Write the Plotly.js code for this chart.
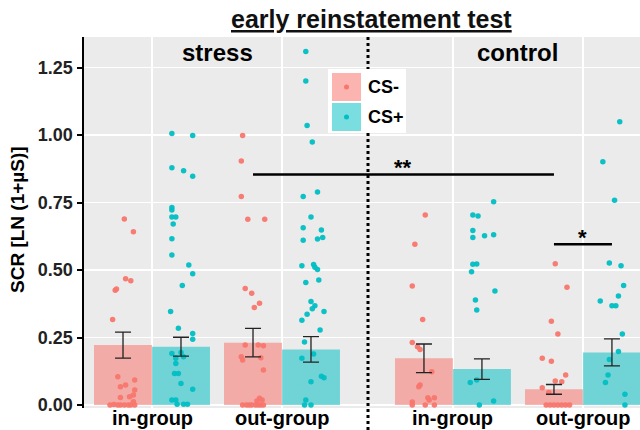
<!DOCTYPE html>
<html>
<head>
<meta charset="utf-8">
<script src="https://cdn.plot.ly/plotly-3.0.1.min.js"></script>
<style>html,body{margin:0;padding:0;background:#fff;}#chart{width:640px;height:430px;}</style>
</head>
<body>
<div id="chart"></div>
<script>
// ---------------- DATA ----------------
const chartTitle = 'early reinstatement test';
const groupLabels = ['stress', 'control'];
const tickLabels = ['in-group', 'out-group'];
const conditions = ['CS-', 'CS+'];
const yTitle = 'SCR [LN (1+µS)]';
const yTicks = [0, 0.25, 0.5, 0.75, 1.0, 1.25];
const yTickLabels = ['0.00', '0.25', '0.50', '0.75', '1.00', '1.25'];

// cell order: stress in-group, stress out-group, control in-group, control out-group
const meanCSminus = [0.222, 0.231, 0.173, 0.058];
const seCSminus   = [0.048, 0.053, 0.053, 0.018];
const meanCSplus  = [0.216, 0.206, 0.133, 0.195];
const seCSplus    = [0.035, 0.047, 0.038, 0.050];

// individual subjects (SCR) and their horizontal jitter
const scrStressInMinus = [0.689,0.642,0.468,0.460,0.425,0.430,0.317,0.105,0.074,0.068,0.093,0.056,0.037,0.031,0.028,0,0.002,0,0,0,0,0,0,0.012];
const jitStressInMinus = [0.01,0.08,0.02,0.06,-0.06,-0.05,-0.08,-0.04,0.02,-0.02,0.09,0.09,0.08,0.05,-0.02,-0.10,-0.07,-0.04,-0.02,0.01,0.04,0.06,0.09,0.08];
const scrStressInPlus = [1.006,0.998,0.879,0.868,0.847,0.732,0.722,0.696,0.696,0.670,0.616,0.556,0.519,0.486,0.443,0.346,0.284,0.265,0.244,0.191,0.173,0.195,0.179,0.154,0.117,0.117,0.080,0.058,0.019,0.019,0.003,0.003,0.003];
const jitStressInPlus = [-0.07,0.09,-0.07,0.02,0.09,-0.07,-0.07,-0.07,-0.04,-0.06,-0.07,-0.07,0.06,0.09,0.01,-0.08,-0.02,0.09,0.09,-0.07,-0.04,0,0.02,-0.04,-0.05,-0.02,0,0.09,-0.07,-0.04,-0.03,0.02,0.05];
const scrStressOutMinus = [0.998,0.904,0.772,0.688,0.688,0.432,0.414,0.377,0.361,0.222,0.222,0.220,0.179,0.167,0.175,0.130,0.025,0.019,0.015,0,0,0,0,0,0,0,0];
const jitStressOutMinus = [-0.08,-0.09,-0.09,-0.04,0.09,-0.06,-0.01,0.05,0.01,-0.06,0.04,0.08,-0.09,-0.08,0.06,0.08,0.05,0.07,0.03,-0.08,-0.05,-0.03,-0.01,0.02,0.04,0.06,0.08];
const scrStressOutPlus = [1.309,1.200,1.035,0.974,0.772,0.789,0.696,0.657,0.648,0.610,0.615,0.620,0.516,0.520,0.510,0.502,0.454,0.463,0.383,0.368,0.357,0.346,0.336,0.314,0.278,0.233,0.173,0.189,0.086,0.107,0.101,0.019,0,0];
const jitStressOutPlus = [-0.04,-0.04,-0.03,0.01,-0.06,0.05,0,-0.06,0.08,-0.06,0.05,0.09,-0.07,0.02,0.03,0.05,-0.04,0.06,0,0.03,0.01,0.10,-0.03,-0.07,0.07,-0.05,-0.07,0.02,0,0.08,0.10,-0.04,-0.05,0];
const scrControlInMinus = [0.704,0.595,0.441,0.317,0.232,0.216,0.206,0.123,0.074,0.068,0.027,0.027,0.019,0.011,0,0,0];
const jitControlInMinus = [0.01,-0.07,-0.09,-0.01,-0.09,-0.05,-0.03,0.06,-0.03,-0.04,0.03,0.08,0.04,-0.09,-0.09,0.01,0.08];
const scrControlInPlus = [0.753,0.704,0.700,0.646,0.620,0.627,0.631,0.521,0.522,0.494,0.422,0.389,0.352,0.083,0.093,0.015,0];
const jitControlInPlus = [0.09,-0.07,-0.03,-0.07,-0.07,0.02,0.09,-0.07,-0.04,-0.08,0.10,-0.05,-0.04,-0.09,-0.04,0.09,-0.02];
const scrControlOutMinus = [0.523,0.436,0.310,0.263,0.173,0.162,0.111,0.089,0.086,0.064,0.046,0,0,0,0,0,0,0];
const jitControlOutMinus = [0.01,0.10,-0.02,0.03,-0.09,-0.02,0.09,0.01,0.06,-0.09,-0.04,-0.06,-0.03,0,0.03,0.06,0.09,0.12];
const scrControlOutPlus = [1.049,0.901,0.758,0.526,0.516,0.443,0.404,0.385,0.368,0.368,0.263,0.198,0.169,0.111,0.083,0.040,0];
const jitControlOutPlus = [0.06,-0.07,0.02,-0.02,0.07,0.09,0.05,-0.09,0,0.03,0.08,0.05,-0.02,-0.03,-0.05,0.10,0.10];

// significance brackets: [cell, condition] -> [cell, condition]
const sigLabels = ['**', '*'];
const sigY      = [0.854, 0.595];
const sigFrom   = [[1, 0], [3, 0]];
const sigTo     = [[3, 0], [3, 1]];

// ---------------- LAYOUT HELPERS ----------------
const W = 640, H = 430, ML = 84, MR = 0, MT = 37, MB = 22;
const px = x => (x - ML) / (W - ML - MR);
const py = y => (H - MB - y) / (H - MT - MB);

const facetShift = 2.315;            // position of the control facet relative to stress
const catPos = [1, 2, 1 + facetShift, 2 + facetShift];
const halfW = 0.223;                  // half of a category's dodge
const barW = 2 * halfW;
const colMinus = '#F8766D', colPlus = '#00BFC4';
const barMinus = 'rgba(248,118,109,0.55)', barPlus = 'rgba(0,191,196,0.52)';
const font = '"Liberation Sans", Arial, sans-serif';

const ptsMinus = [[scrStressInMinus, jitStressInMinus], [scrStressOutMinus, jitStressOutMinus],
                  [scrControlInMinus, jitControlInMinus], [scrControlOutMinus, jitControlOutMinus]];
const ptsPlus  = [[scrStressInPlus, jitStressInPlus], [scrStressOutPlus, jitStressOutPlus],
                  [scrControlInPlus, jitControlInPlus], [scrControlOutPlus, jitControlOutPlus]];

const traces = [];
[[meanCSminus, -1, barMinus, conditions[0]], [meanCSplus, 1, barPlus, conditions[1]]].forEach(([m, side, bc, name]) => {
  traces.push({
    type: 'bar', x: catPos, y: m, width: barW, offset: side < 0 ? -barW : 0,
    marker: { color: bc, line: { width: 0 } }, name: name, showlegend: false, hoverinfo: 'skip'
  });
});
[[ptsMinus, -1, colMinus], [ptsPlus, 1, colPlus]].forEach(([pts, side, pc]) => {
  const xs = [], ys = [];
  pts.forEach(([v, j], i) => {
    v.forEach((val, k) => { xs.push(catPos[i] + side * halfW + j[k]); ys.push(val); });
  });
  traces.push({
    type: 'scatter', mode: 'markers', x: xs, y: ys, cliponaxis: false,
    marker: { color: pc, size: 5.5, opacity: 0.95, line: { width: 0 } }, showlegend: false, hoverinfo: 'skip'
  });
});
[[meanCSminus, seCSminus, -1], [meanCSplus, seCSplus, 1]].forEach(([m, se, side]) => {
  traces.push({
    type: 'scatter', mode: 'markers', x: catPos.map(p => p + side * halfW), y: m,
    marker: { size: 1, opacity: 0 }, showlegend: false, hoverinfo: 'skip',
    error_y: { type: 'data', array: se, visible: true, color: '#222', thickness: 1.3, width: 8 }
  });
});

const barCenter = ([cell, cond]) => catPos[cell] + (cond === 0 ? -halfW : halfW);

const shapes = [
  { type: 'line', xref: 'paper', yref: 'paper', x0: px(368), x1: px(368), y0: py(430), y1: 1,
    line: { color: '#000', width: 3, dash: 'dot' }, layer: 'above' },
  { type: 'rect', xref: 'paper', yref: 'paper', x0: px(328), x1: px(406), y0: py(133), y1: py(69),
    fillcolor: '#fff', line: { width: 0 }, layer: 'above' },
  { type: 'rect', xref: 'paper', yref: 'paper', x0: px(332), x1: px(361), y0: py(101), y1: py(73),
    fillcolor: barMinus, line: { width: 0 }, layer: 'above' },
  { type: 'rect', xref: 'paper', yref: 'paper', x0: px(332), x1: px(361), y0: py(131), y1: py(103),
    fillcolor: barPlus, line: { width: 0 }, layer: 'above' },
  { type: 'circle', xref: 'paper', yref: 'paper', x0: px(344), x1: px(349), y0: py(89.5), y1: py(84.5),
    fillcolor: colMinus, line: { width: 0 }, layer: 'above' },
  { type: 'circle', xref: 'paper', yref: 'paper', x0: px(344), x1: px(349), y0: py(119.5), y1: py(114.5),
    fillcolor: colPlus, line: { width: 0 }, layer: 'above' }
];
sigLabels.forEach((s, i) => {
  shapes.push({ type: 'line', xref: 'x', yref: 'y', x0: barCenter(sigFrom[i]), x1: barCenter(sigTo[i]),
    y0: sigY[i], y1: sigY[i], line: { color: '#000', width: 2.5 }, layer: 'above' });
});

const annotations = [
  { text: '<b><u>' + chartTitle + '</u></b>', xref: 'paper', yref: 'paper', x: px(371), y: py(19),
    xanchor: 'center', yanchor: 'middle', showarrow: false, font: { family: font, size: 25, color: '#111' } },
  { text: '<b>' + groupLabels[0] + '</b>', xref: 'x', yref: 'paper', x: (catPos[0] + catPos[1]) / 2, y: py(52),
    xanchor: 'center', yanchor: 'middle', showarrow: false, font: { family: font, size: 24, color: '#000' } },
  { text: '<b>' + groupLabels[1] + '</b>', xref: 'x', yref: 'paper', x: (catPos[2] + catPos[3]) / 2, y: py(52),
    xanchor: 'center', yanchor: 'middle', showarrow: false, font: { family: font, size: 24, color: '#000' } },
  { text: '<b>' + conditions[0] + '</b>', xref: 'paper', yref: 'paper', x: px(366), y: py(87),
    xanchor: 'left', yanchor: 'middle', showarrow: false, font: { family: font, size: 18, color: '#000' } },
  { text: '<b>' + conditions[1] + '</b>', xref: 'paper', yref: 'paper', x: px(366), y: py(117),
    xanchor: 'left', yanchor: 'middle', showarrow: false, font: { family: font, size: 18, color: '#000' } },
  { text: '<b>' + yTitle + '</b>', xref: 'paper', yref: 'paper', x: px(17), y: py(220), textangle: -90,
    xanchor: 'center', yanchor: 'middle', showarrow: false, font: { family: font, size: 19, color: '#000' } }
];
catPos.forEach((p, i) => {
  annotations.push({ text: '<b>' + tickLabels[i % 2] + '</b>', xref: 'x', yref: 'paper', x: p, y: py(418),
    xanchor: 'center', yanchor: 'middle', showarrow: false, font: { family: font, size: 20, color: '#000' } });
});
sigLabels.forEach((s, i) => {
  annotations.push({ text: '<b>' + s + '</b>', xref: 'x', yref: 'y',
    x: (barCenter(sigFrom[i]) + barCenter(sigTo[i])) / 2, y: sigY[i], xanchor: 'center', yanchor: 'bottom',
    yshift: -8, showarrow: false, font: { family: font, size: 22, color: '#000' } });
});

const layout = {
  width: W, height: H, margin: { l: ML, r: MR, t: MT, b: MB, pad: 0 },
  paper_bgcolor: '#fff', plot_bgcolor: '#EBEBEB', barmode: 'overlay', showlegend: false,
  font: { family: font },
  xaxis: {
    range: [1 - 68 / 130, 1 + 488 / 130], tickvals: catPos, showticklabels: false,
    showgrid: true, gridcolor: '#fff', gridwidth: 1.4, zeroline: false, showline: false, ticks: ''
  },
  yaxis: {
    range: [-0.011, 1.363], tickvals: yTicks, ticktext: yTickLabels,
    showgrid: true, gridcolor: '#fff', gridwidth: 1.4, zeroline: false,
    showline: true, linecolor: '#000', linewidth: 2.5, ticks: 'outside', ticklen: 5, tickwidth: 2, tickcolor: '#000',
    tickfont: { family: font, size: 18, color: '#222', weight: 'bold' }
  },
  shapes: shapes, annotations: annotations
};

Plotly.newPlot('chart', traces, layout, { staticPlot: true, displayModeBar: false });
</script>
</body>
</html>
